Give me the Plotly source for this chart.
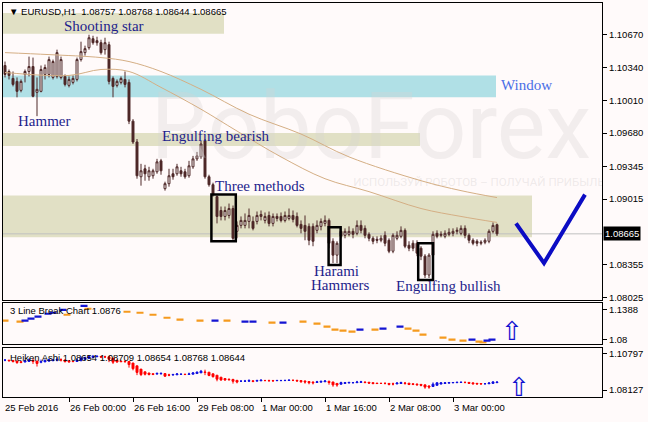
import plotly.graph_objects as go

# ---------------- data ----------------
opens = [1.1036,1.1030,1.1023,1.1020,1.1011,1.1027,1.1030,1.1035,1.1009,1.1010,
         1.1027,1.1027,1.1024,1.1025,1.1024,1.1025,1.1016,1.1019,1.1022,1.1042,
         1.1049,1.1054,1.1063,1.1061,1.1059,1.1052,1.1057,1.1023,1.1016,1.1019,
         1.1022,1.1019,1.0980,1.0959,1.0924,1.0932,1.0924,1.0925,1.0929,1.0940,
         1.0912,1.0917,1.0927,1.0927,1.0930,1.0929,1.0925,1.0934,1.0942,1.0944,
         1.0960,1.0924,1.0916,1.0904,1.0890,1.0884,1.0885,1.0892,1.0869,1.0875,
         1.0875,1.0879,1.0879,1.0879,1.0884,1.0880,1.0885,1.0877,1.0884,1.0884,
         1.0880,1.0882,1.0885,1.0884,1.0876,1.0875,1.0874,1.0874,1.0870,1.0874,
         1.0877,1.0880,1.0859,1.0845,1.0869,1.0865,1.0866,1.0869,1.0867,1.0875,
         1.0872,1.0866,1.0862,1.0861,1.0860,1.0865,1.0860,1.0849,1.0862,1.0864,
         1.0870,1.0855,1.0857,1.0857,1.0852,1.0844,1.0825,1.0845,1.0867,1.0865,
         1.0864,1.0866,1.0867,1.0869,1.0867,1.0872,1.0865,1.0860,1.0859,1.0857,
         1.0858,1.0859,1.0869,1.08757]
closes = [1.1027,1.1026,1.1017,1.1010,1.1020,1.1030,1.1035,1.1005,1.1012,1.1032,
          1.1034,1.1042,1.1040,1.1049,1.1042,1.1017,1.1022,1.1023,1.1042,1.1050,
          1.1053,1.1064,1.1059,1.1059,1.1049,1.1059,1.1020,1.1015,1.1020,1.1023,
          1.1017,1.0980,1.0959,1.0925,1.0930,1.0927,1.0930,1.0930,1.0939,1.0930,
          1.0917,1.0925,1.0924,1.0934,1.0927,1.0924,1.0935,1.0942,1.0945,1.0957,
          1.0924,1.0916,1.0906,1.0884,1.0884,1.0890,1.0892,1.0862,1.0875,1.0880,
          1.0880,1.0885,1.0872,1.0885,1.0886,1.0884,1.0877,1.0884,1.0882,1.0880,
          1.0885,1.0885,1.0881,1.0875,1.0872,1.0869,1.0860,1.0859,1.0875,1.0879,
          1.0880,1.0857,1.0845,1.0857,1.0864,1.0869,1.0869,1.0866,1.0875,1.0870,
          1.0865,1.0862,1.0859,1.0860,1.0862,1.0857,1.0849,1.0865,1.0865,1.0870,
          1.0854,1.0852,1.0852,1.0847,1.0844,1.0825,1.0845,1.0866,1.0864,1.0866,
          1.0867,1.0868,1.0869,1.0870,1.0872,1.0865,1.0860,1.0857,1.0857,1.0858,
          1.0860,1.0869,1.0875,1.08665]
highs = [1.1040,1.1032,1.1030,1.1024,1.1022,1.1032,1.1045,1.1044,1.1024,1.1036,
         1.1037,1.1045,1.1042,1.1052,1.1045,1.1027,1.1025,1.1026,1.1044,1.1060,
         1.1056,1.1067,1.1066,1.1065,1.1062,1.1064,1.1060,1.1025,1.1022,1.1025,
         1.1030,1.1022,1.0982,1.0962,1.0937,1.0936,1.0934,1.0932,1.0942,1.0942,
         1.0919,1.0932,1.0932,1.0937,1.0934,1.0932,1.0940,1.0945,1.0949,1.0960,
         1.0962,1.0926,1.0918,1.0905,1.0894,1.0894,1.0897,1.0895,1.0879,1.0884,
         1.0887,1.0892,1.0884,1.0889,1.0890,1.0888,1.0889,1.0887,1.0887,1.0888,
         1.0889,1.0892,1.0890,1.0888,1.0880,1.0885,1.0877,1.0877,1.0880,1.0882,
         1.0885,1.0882,1.0862,1.0859,1.0874,1.0872,1.0874,1.0872,1.0880,1.0880,
         1.0875,1.0868,1.0864,1.0864,1.0865,1.0869,1.0862,1.0867,1.0869,1.0874,
         1.0872,1.0859,1.0860,1.0860,1.0854,1.0846,1.0847,1.0869,1.0870,1.0869,
         1.0870,1.0872,1.0872,1.0873,1.0875,1.0875,1.0867,1.0862,1.0861,1.0860,
         1.0862,1.0871,1.0878,1.08768]
lows = [1.1024,1.1022,1.1015,1.1004,1.1009,1.1019,1.1025,1.1004,1.0985,1.1009,
        1.1022,1.1024,1.1022,1.1023,1.1022,1.1015,1.1014,1.1017,1.1020,1.1040,
        1.1046,1.1052,1.1057,1.1056,1.1047,1.1047,1.1017,1.1004,1.1014,1.1017,
        1.1014,1.0977,1.0957,1.0922,1.0915,1.0920,1.0920,1.0922,1.0927,1.0926,
        1.0910,1.0914,1.0921,1.0925,1.0924,1.0922,1.0923,1.0932,1.0940,1.0942,
        1.0922,1.0914,1.0904,1.0877,1.0880,1.0880,1.0882,1.0860,1.0862,1.0872,
        1.0872,1.0872,1.0870,1.0876,1.0880,1.0877,1.0874,1.0874,1.0879,1.0878,
        1.0878,1.0880,1.0878,1.0873,1.0867,1.0860,1.0855,1.0854,1.0867,1.0870,
        1.0874,1.0852,1.0837,1.0837,1.0862,1.0862,1.0864,1.0862,1.0865,1.0867,
        1.0862,1.0859,1.0856,1.0857,1.0858,1.0854,1.0847,1.0847,1.0860,1.0862,
        1.0852,1.0849,1.0849,1.0844,1.0840,1.0822,1.0822,1.0844,1.0862,1.0863,
        1.0862,1.0864,1.0864,1.0866,1.0865,1.0862,1.0857,1.0855,1.0854,1.0855,
        1.0856,1.0857,1.0867,1.08644]
bars = list(range(len(opens)))

# moving averages (read at sample bars)
ma_slow_bar = [0, 11, 24, 31, 39, 49, 61, 74, 86, 104, 114, 123]
ma_slow_val = [1.1049, 1.1047, 1.1044, 1.1040, 1.1030, 1.1012, 1.0987, 1.0967, 1.0944, 1.0920, 1.0910, 1.0903]
ma_fast_bar = [0, 16, 24, 31, 39, 49, 58, 69, 80, 91, 104, 114, 123]
ma_fast_val = [1.1029, 1.1026, 1.1032, 1.1030, 1.1014, 1.0992, 1.0970, 1.0944, 1.0922, 1.0909, 1.0892, 1.0884, 1.0878]

# 3 line break segments
lb_orange_bar = [0, 3.75, 15.5, 20.75, 30.5, 33.75, 37, 40.5, 43.75, 48.75, 55.5, 66.75, 74.5, 78, 80.5,
                 82.5, 84.5, 86.75, 92.5, 100.75, 102.75, 104.5, 109.5, 111.75, 114.5, 118.5, 119.5]
lb_orange_val = [1.1172, 1.1153, 1.1290, 1.1408, 1.1349, 1.1329, 1.1290, 1.1231, 1.1192, 1.1172, 1.1172,
                 1.1133, 1.1153, 1.1114, 1.1055, 1.0996, 1.0976, 1.0957, 1.0996, 1.1016, 1.0976, 1.0898,
                 1.0839, 1.0800, 1.0780, 1.0761, 1.0741]
lb_blue_bar = [5, 6.5, 8.25, 10.75, 12, 14.5, 19.75, 52.5, 60, 62, 69.5, 88.75, 94.5, 98.75, 116.75, 120.5, 121.75]
lb_blue_val = [1.1172, 1.1212, 1.1251, 1.1310, 1.1329, 1.1388, 1.1466, 1.1172, 1.1153, 1.1153, 1.1133,
               1.0996, 1.1016, 1.1055, 1.0800, 1.0780, 1.0800]

# forecast V
v_bar = [127.75, 134.75, 145.0]
v_val = [1.0877, 1.0837, 1.0906]

# zones: (start bar, end bar, low, high, colour)
zones = [(-0.5, 54.75, 1.1068, 1.1089, "#e1e0c5"),
         (-0.5, 122.75, 1.1004, 1.1026, "#b0e0e6"),
         (-0.5, 103.75, 1.0955, 1.0968, "#e1e0c5"),
         (-0.5, 131.75, 1.0863, 1.0905, "#e1e0c5")]
# pattern boxes
boxes = [(51.6, 57.7, 1.0859, 1.0906), (80.9, 83.9, 1.0835, 1.0873), (103.3, 107.0, 1.0820, 1.0857)]

price_ticks = [1.10670, 1.10340, 1.10010, 1.09680, 1.09345, 1.09015, 1.08355, 1.08025]
current_price = 1.08665
tick_bars = [16, 32, 48, 64, 80, 96, 112]
tick_labels = ["26 Feb 00:00", "26 Feb 16:00", "29 Feb 08:00", "1 Mar 00:00", "1 Mar 16:00", "2 Mar 08:00", "3 Mar 00:00"]
first_label = "25 Feb 2016"

labels = [("Shooting star", 24.75, 1.1076, "center"),
          ("Hammer", 9.75, 1.0980, "center"),
          ("Engulfing bearish", 52.75, 1.0965, "center"),
          ("Three methods", 63.75, 1.0915, "center"),
          ("Harami", 82.75, 1.0829, "center"),
          ("Hammers", 83.75, 1.0815, "center"),
          ("Engulfing bullish", 110.75, 1.0814, "center")]

# ---------------- Heiken Ashi from candles ----------------
ha_o, ha_c, ha_h, ha_l = [], [], [], []
for k in range(len(opens)):
    c = (opens[k] + highs[k] + lows[k] + closes[k]) / 4
    o = (opens[k] + closes[k]) / 2 if k == 0 else (ha_o[-1] + ha_c[-1]) / 2
    ha_o.append(o); ha_c.append(c)
    ha_h.append(max(highs[k], o, c)); ha_l.append(min(lows[k], o, c))

# ---------------- figure ----------------
W, H = 648, 422
BG = "#fffafa"
DARK = "#4e2828"
TAN = "#d4ae84"
SANS = "Liberation Sans"
SERIF = "Liberation Serif"

fig = go.Figure()

fig.add_trace(go.Scatter(x=[91.5, 118.5], y=[1.0966, 1.0918], mode="text",
                         text=["RoboForex", "ИСПОЛЬЗУЙ РОБОТОВ – ПОЛУЧАЙ ПРИБЫЛЬ"],
                         textfont=dict(size=[92, 11.5], family="Roboto",
                                       color=["rgba(215,212,212,0.32)", "rgba(200,195,195,0.3)"]),
                         hoverinfo="skip", xaxis="x", yaxis="y"))
fig.add_trace(go.Scatter(x=ma_slow_bar, y=ma_slow_val, mode="lines", line=dict(color=TAN, width=1, shape="spline"),
                         hoverinfo="skip", xaxis="x", yaxis="y"))
fig.add_trace(go.Scatter(x=ma_fast_bar, y=ma_fast_val, mode="lines", line=dict(color=TAN, width=1, shape="spline"),
                         hoverinfo="skip", xaxis="x", yaxis="y"))
fig.add_trace(go.Candlestick(x=bars, open=opens, high=highs, low=lows, close=closes,
                             increasing=dict(line=dict(color=DARK, width=1), fillcolor=BG),
                             decreasing=dict(line=dict(color=DARK, width=1), fillcolor=DARK),
                             whiskerwidth=0, xaxis="x", yaxis="y"))
fig.add_trace(go.Scatter(x=v_bar, y=v_val, mode="lines", line=dict(color="#0c0cc4", width=4),
                         hoverinfo="skip", xaxis="x", yaxis="y"))

fig.add_trace(go.Scatter(x=lb_orange_bar, y=lb_orange_val, mode="markers",
                         marker=dict(symbol="line-ew", size=5, line=dict(color="#f59a1e", width=2.2)),
                         xaxis="x2", yaxis="y2"))
fig.add_trace(go.Scatter(x=lb_blue_bar, y=lb_blue_val, mode="markers",
                         marker=dict(symbol="line-ew", size=5, line=dict(color="#1414d2", width=2.2)),
                         xaxis="x2", yaxis="y2"))

fig.add_trace(go.Candlestick(x=bars, open=ha_o, high=ha_h, low=ha_l, close=ha_c,
                             increasing=dict(line=dict(color="#1010e0", width=1), fillcolor="#1010e0"),
                             decreasing=dict(line=dict(color="#ff0000", width=1), fillcolor="#ff0000"),
                             whiskerwidth=0, xaxis="x3", yaxis="y3"))

xdom = [3 / W, 602 / W]
def ydom(top, bottom):
    return [1 - bottom / H, 1 - top / H]

xr = [-0.5, 149.25]
common_x = dict(domain=xdom, range=xr, showgrid=False, zeroline=False, showline=True, mirror=True,
                linecolor="black", linewidth=1, showticklabels=False, fixedrange=True,
                rangeslider=dict(visible=False))
axfont = dict(family=SANS, size=9.5, color="black")
common_y = dict(side="right", showgrid=False, zeroline=False, showline=True, mirror=True,
                linecolor="black", linewidth=1, ticks="outside", ticklen=4, tickcolor="black",
                tickfont=axfont, fixedrange=True)

fig.update_layout(
    width=W, height=H, margin=dict(l=0, r=0, t=0, b=0),
    paper_bgcolor=BG, plot_bgcolor=BG, showlegend=False,
    xaxis=dict(common_x, anchor="y", ticks=""),
    yaxis=dict(common_y, domain=ydom(3, 302), range=[1.0800, 1.1099], anchor="x",
               tickvals=price_ticks, ticktext=[f"{p:.5f}" for p in price_ticks]),
    xaxis2=dict(common_x, anchor="y2", ticks=""),
    yaxis2=dict(common_y, domain=ydom(305, 346), range=[1.07216, 1.15252], anchor="x2",
                tickvals=[1.1388, 1.08], ticktext=["1.1388", "1.08"]),
    xaxis3=dict(common_x, anchor="y3", ticks="outside", ticklen=4, tickcolor="black",
                tickvals=tick_bars),
    yaxis3=dict(common_y, domain=ydom(350, 400), range=[1.07608, 1.11242], anchor="x3",
                tickvals=[1.10797, 1.08127], ticktext=["1.10797", "1.08127"]),
)

shapes = []
for x0, x1, lo, hi, col in zones:
    shapes.append(dict(type="rect", xref="x", yref="y", x0=x0, x1=x1, y0=lo, y1=hi,
                       fillcolor=col, line=dict(width=0), layer="below"))
shapes.append(dict(type="line", xref="x", yref="y", x0=xr[0], x1=xr[1], y0=current_price, y1=current_price,
                   line=dict(color="#c0c0c0", width=1), layer="below"))
for x0, x1, lo, hi in boxes:
    shapes.append(dict(type="rect", xref="x", yref="y", x0=x0, x1=x1, y0=lo, y1=hi,
                       line=dict(color="black", width=2.5), fillcolor="rgba(0,0,0,0)"))
fig.update_layout(shapes=shapes)

ann = []
for txt, bx, py, anc in labels:
    ann.append(dict(text=txt, x=bx, y=py, xref="x", yref="y", showarrow=False, xanchor=anc,
                    font=dict(family=SERIF, size=15, color="#1e1e8c")))
ann.append(dict(text="Window", x=123.4, y=1.1016, xref="x", yref="y", showarrow=False, xanchor="left",
                font=dict(family=SERIF, size=15, color="#4a6ee6")))
ann.append(dict(text="\u25bc\u00a0EURUSD,H1\u00a0\u00a01.08757\u00a01.08768\u00a01.08644\u00a01.08665",
                x=7 / W, y=1 - 12 / H, xref="paper", yref="paper", showarrow=False, xanchor="left",
                yanchor="middle", font=axfont))
ann.append(dict(text="3 Line Break Chart 1.0876", x=8 / W, y=1 - 313 / H, xref="paper", yref="paper",
                showarrow=False, xanchor="left", yanchor="middle", font=axfont))
ann.append(dict(text="Heiken Ashi 1.08654 1.08709 1.08654 1.08768 1.08644", x=8 / W, y=1 - 360 / H,
                xref="paper", yref="paper", showarrow=False, xanchor="left", yanchor="middle", font=axfont))
ann.append(dict(text=first_label, x=3 / W, y=1 - 410 / H, xref="paper", yref="paper", showarrow=False,
                xanchor="left", yanchor="middle", font=axfont))
for b, t in zip(tick_bars, tick_labels):
    ann.append(dict(text=t, x=b - 0.3, y=1 - 410 / H, xref="x3", yref="paper", showarrow=False,
                    xanchor="left", yanchor="middle", font=axfont))
ann.append(dict(text="1.08665", x=603 / W, y=current_price, xref="paper", yref="y", showarrow=False,
                xanchor="left", yanchor="middle", bgcolor="black", borderpad=1,
                font=dict(family=SANS, size=9.5, color="white")))
ann.append(dict(text="\u21e7", x=126.75, y=1.0976, xref="x2", yref="y2", showarrow=False,
                font=dict(family="DejaVu Sans", size=26, color="#1010d0")))
ann.append(dict(text="\u21e7", x=128.5, y=1.0835, xref="x3", yref="y3", showarrow=False,
                font=dict(family="DejaVu Sans", size=26, color="#1010d0")))
fig.update_layout(annotations=ann)

fig.write_html("out.html", config=dict(displayModeBar=False),
               post_script="document.body.style.margin='0';document.body.style.overflow='hidden';")
